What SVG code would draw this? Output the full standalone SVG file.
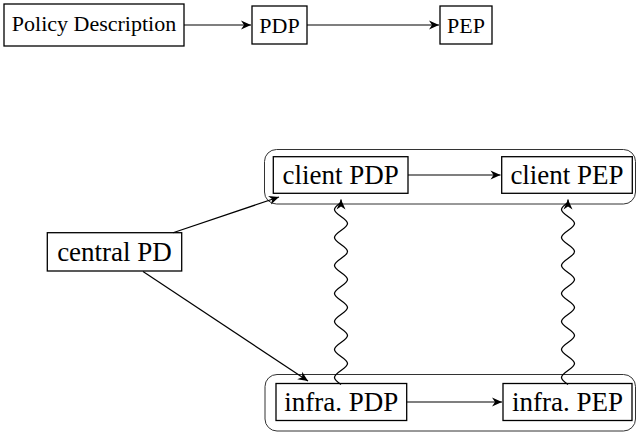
<svg xmlns="http://www.w3.org/2000/svg" width="637" height="432" viewBox="0 0 637 432">
  <style>
    .box { fill: #ffffff; stroke: #000000; stroke-width: 1.3; }
    .group { fill: none; stroke: #333333; stroke-width: 1; }
    text { font-family: 'Liberation Serif', 'DejaVu Serif', serif; fill: #000000; text-anchor: middle; }
    .t22 { font-size: 22px; }
    .t27 { font-size: 27px; }
    .edge { fill: none; stroke: #000000; stroke-width: 1.2; marker-end: url(#head); }
    .snake { fill: none; stroke: #000000; stroke-width: 1.3; marker-end: url(#head); }
  </style>
  <defs>
    <marker id="head" markerUnits="userSpaceOnUse" viewBox="-11 -6 12 12" refX="0" refY="0" markerWidth="12" markerHeight="12" orient="auto">
      <path d="M0,0 L-10,-4.5 L-7,0 L-10,4.5 Z" fill="#000000"/>
    </marker>
  </defs>

  <!-- simple chain: description to decision point to enforcement point -->
  <g id="policy-description">
    <rect class="box" x="4" y="4" width="180" height="42"/>
    <text class="t22" x="94" y="30.5" font-family="Liberation Serif, serif">Policy Description</text>
  </g>
  <g id="pdp">
    <rect class="box" x="252" y="6" width="55" height="38"/>
    <text class="t22" x="279.5" y="32.5" font-family="Liberation Serif, serif">PDP</text>
  </g>
  <g id="pep">
    <rect class="box" x="440" y="6" width="52" height="38"/>
    <text class="t22" x="466" y="32.5" font-family="Liberation Serif, serif">PEP</text>
  </g>

  <!-- distributed setup: client and infrastructure groups -->
  <g id="client-group">
    <rect class="group" x="264.5" y="149.5" width="371" height="54.5" rx="12" ry="12"/>
  </g>
  <g id="infra-group">
    <rect class="group" x="265" y="374.5" width="370.5" height="56.5" rx="12" ry="12"/>
  </g>
  <g id="client-pdp">
    <rect class="box" x="273.3" y="156.7" width="134.7" height="36.6"/>
    <text class="t27" x="340.7" y="184.2" font-family="Liberation Serif, serif">client PDP</text>
  </g>
  <g id="client-pep">
    <rect class="box" x="501.7" y="156.7" width="130.6" height="36.6"/>
    <text class="t27" x="567" y="184.2" font-family="Liberation Serif, serif">client PEP</text>
  </g>
  <g id="infra-pdp">
    <rect class="box" x="276" y="383.5" width="130.7" height="37"/>
    <text class="t27" x="341.3" y="411.2" font-family="Liberation Serif, serif">infra. PDP</text>
  </g>
  <g id="infra-pep">
    <rect class="box" x="503" y="383.5" width="129" height="37"/>
    <text class="t27" x="567.5" y="411.2" font-family="Liberation Serif, serif">infra. PEP</text>
  </g>
  <g id="central-pd">
    <rect class="box" x="47.3" y="232.7" width="134.4" height="38.3"/>
    <text class="t27" x="114.5" y="261" font-family="Liberation Serif, serif">central PD</text>
  </g>

  <g id="connectors">
    <path class="edge" d="M184,25 L251,25"/>
    <path class="edge" d="M307,25 L439,25"/>
    <path class="edge" d="M408,175 L500.5,175"/>
    <path class="edge" d="M406.7,402 L502,402"/>
    <path class="edge" d="M173,232.7 L279,197"/>
    <path class="edge" d="M143,271.5 L308,381"/>
    <!-- wavy links from infrastructure points up to client points -->
    <path class="snake" d="M341,384.5 c-8.67,-5.94 -8.67,-8.06 0,-14 s8.67,-8.06 0,-14 s-8.67,-8.06 0,-14 s8.67,-8.06 0,-14 s-8.67,-8.06 0,-14 s8.67,-8.06 0,-14 s-8.67,-8.06 0,-14 s8.67,-8.06 0,-14 s-8.67,-8.06 0,-14 s8.67,-8.06 0,-14 s-8.67,-8.06 0,-14 s8.67,-8.06 0,-14 s-8.67,-8.06 0,-14 L341,199.5"/>
    <path class="snake" d="M568,384.5 c-8.67,-5.94 -8.67,-8.06 0,-14 s8.67,-8.06 0,-14 s-8.67,-8.06 0,-14 s8.67,-8.06 0,-14 s-8.67,-8.06 0,-14 s8.67,-8.06 0,-14 s-8.67,-8.06 0,-14 s8.67,-8.06 0,-14 s-8.67,-8.06 0,-14 s8.67,-8.06 0,-14 s-8.67,-8.06 0,-14 s8.67,-8.06 0,-14 s-8.67,-8.06 0,-14 L568,199.5"/>
  </g>
</svg>
